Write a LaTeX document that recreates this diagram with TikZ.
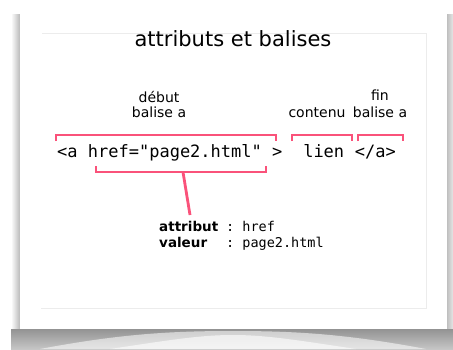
\documentclass[tikz,border=0pt]{standalone}
\usepackage{fontspec}
\setmainfont{DejaVu Sans}
\setmonofont{DejaVu Sans Mono}
\usepackage{tikz}
\usetikzlibrary{positioning, calc}
\definecolor{tagpink}{RGB}{250,82,122}
\definecolor{framegray}{RGB}{236,236,236}

\begin{document}
\begin{tikzpicture}[
    x=1pt, y=-1pt,
    title/.style={inner sep=0pt, anchor=base, font=\fontsize{21}{24}\selectfont},
    code/.style={inner sep=0pt, font=\fontsize{17}{20}\selectfont\ttfamily},
    lbl/.style={inner sep=0pt, align=center, anchor=south, font=\fontsize{14}{15}\selectfont},
    info/.style={inner sep=0pt, anchor=base west, font=\fontsize{13.5}{16}\selectfont},
    brace/.style={draw=tagpink, line width=2.8pt},
    frame/.style={draw=framegray, line width=0.6pt}
]
\useasboundingbox (0,0) rectangle (453,349);

% Paper shadow
\shade[left color=white, right color=gray!55] (11,14) rectangle (20,349);
\shade[left color=gray!50, right color=gray!20] (447,14) rectangle (453,349);
\shade[top color=gray!85, bottom color=gray!45] (11,329) rectangle (453,349);
\fill[white, opacity=0.55] (40,349) .. controls (120,334) and (170,331) .. (233,331)
    .. controls (296,331) and (346,334) .. (426,349) -- cycle;
\fill[white, opacity=0.6] (110,349) .. controls (170,340) and (200,335) .. (233,335)
    .. controls (266,335) and (296,340) .. (356,349) -- cycle;

% Paper
\fill[white] (20,11) rectangle (447,329);
\draw[frame] (42,33) -- (426,33) -- (426,308) -- (41,308);

% Title
\node[title] (title) at (233,46) {attributs et balises};

% Code line
\node[code, anchor=base west] (open) at (57,157) {<a href="page2.html" >};
\node[code, base right=20.5pt of open] (content) {lien};
\node[code, base right=10.2pt of content] (close) {</a>};

% Labels above
\node[lbl] (startlbl) at (159,118) {début\\balise a};
\node[lbl] (contentlbl) at (317,118) {contenu};
\node[lbl] (endlbl) at (380,118) {fin\\[2pt]balise a};

% Brackets
\draw[brace] (56,141) -- (56,135) -- (276,135) -- (276,141);
\draw[brace] (292,141) -- (292,135) -- (352,135) -- (352,141);
\draw[brace] (358,141) -- (358,135) -- (403,135) -- (403,141);
\draw[brace] (96,166) -- (96,172) -- (266,172) -- (266,166);

% Attribute
\coordinate (attrmid) at (183,172);
\coordinate (stemend) at (190,215);
\draw[brace] (attrmid) -- (stemend);
\node[info] (info) at (159,231) {%
    \begin{tabular}[t]{@{}l@{\hspace{8pt}}l@{}}
    \textbf{attribut} & \texttt{: href}\\
    \textbf{valeur}   & \texttt{: page2.html}
    \end{tabular}};

\end{tikzpicture}
\end{document}
